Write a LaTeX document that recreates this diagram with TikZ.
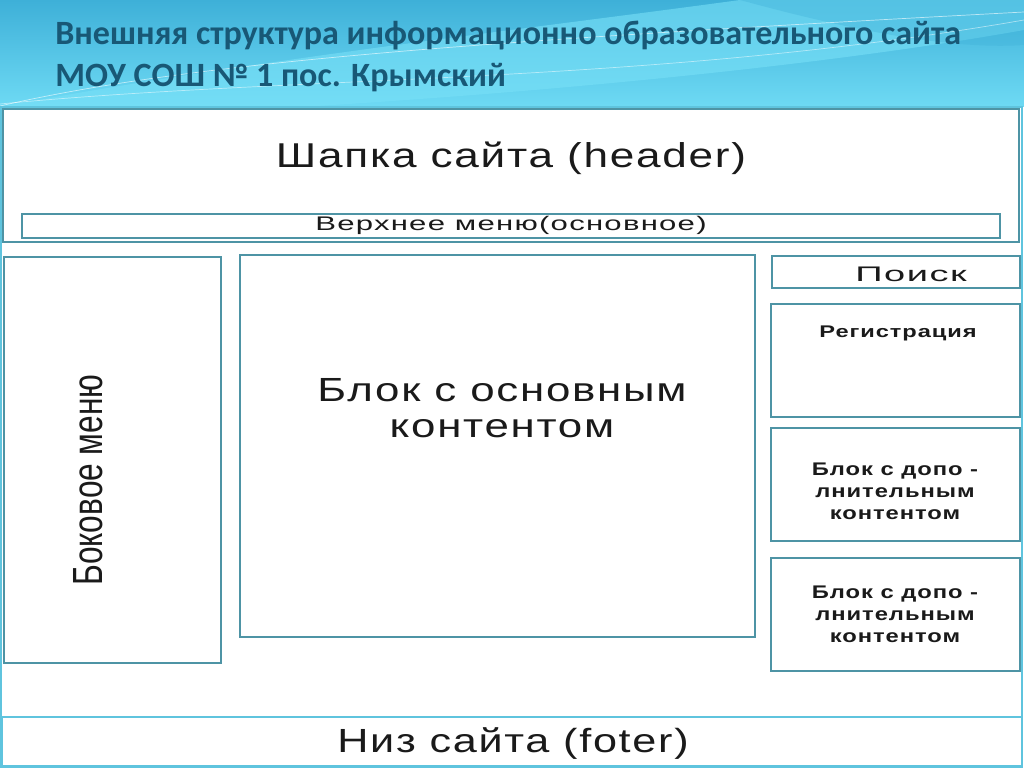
\documentclass[tikz,border=0pt]{standalone}
\usepackage{fontspec}
\setmainfont{Liberation Sans}
\newfontfamily\titlefont{Carlito}
\newfontfamily\boxfont{Liberation Sans}[LetterSpace=4]
\usetikzlibrary{positioning}

\definecolor{bandtop}{RGB}{62,176,216}
\definecolor{bandbot}{RGB}{110,218,244}
\definecolor{swoosh}{RGB}{120,224,247}
\definecolor{titleblue}{RGB}{24,88,118}
\definecolor{boxline}{RGB}{78,148,165}
\definecolor{frameline}{RGB}{95,196,222}
\definecolor{ink}{RGB}{26,26,26}

% the labels of the picture are stretched sideways
\newcommand{\wide}[2]{\scalebox{#1}[1]{#2}}

\tikzset{
  box/.style={draw=boxline, line width=0.9pt},
  frame/.style={draw=frameline, line width=1.1pt},
  lbl/.style={text=ink, inner sep=0pt, align=center, font=\boxfont},
  ttl/.style={font=\titlefont\bfseries\fontsize{24.2}{28}\selectfont, text=titleblue, anchor=base west, inner sep=0pt}
}

\begin{document}
\begin{tikzpicture}[x=0.025cm, y=-0.025cm]
    \useasboundingbox (0,0) rectangle (1024,768);
    \fill [white] (0,0) rectangle (1024,768);

    % top band of the slide
    \shade [top color=bandtop, bottom color=bandbot] (0,0) rectangle (1024,107);
    \fill [swoosh, opacity=0.6] (0,107) .. controls (250,60) and (520,30) .. (740,0) -- (1024,0) -- (1024,30) .. controls (800,70) and (500,95) .. (300,107) -- cycle;
    \fill [bandtop, opacity=0.35] (740,0) .. controls (850,30) and (950,50) .. (1024,45) -- (1024,0) -- cycle;
    \draw [white, opacity=0.6, line width=0.5pt] (0,106) .. controls (200,60) and (500,40) .. (1024,12);
    \draw [white, opacity=0.5, line width=0.5pt] (0,104) .. controls (300,75) and (650,85) .. (1024,20);
    \node [ttl] (title1) at (55,45) {Внешняя структура информационно образовательного сайта};
    \node [ttl] (title2) at (55,87) {МОУ СОШ № 1 пос. Крымский};

    % page frame
    \draw [frame] (1,107) rectangle (1022,767);

    % header with top menu
    \draw [box] (3,109) rectangle (1019,242);
    \node [lbl, font=\boxfont\fontsize{24.5}{28}\selectfont] (header) at (511,158) {\wide{1.28}{Шапка сайта (header)}};
    \draw [box] (22,214) rectangle (1000,238);
    \node [lbl, font=\boxfont\fontsize{14}{17}\selectfont] (topmenu) at (511,225) {\wide{1.58}{Верхнее меню(основное)}};

    % side menu
    \draw [box] (4,257) rectangle (221,663);
    \node [lbl, rotate=90, font=\setmainfont{Liberation Sans}\fontsize{30}{34}\selectfont] (sidemenu) at (88,480) {\wide{0.75}{Боковое меню}};

    % main content
    \draw [box] (240,255) rectangle (755,637);
    \node [lbl, font=\boxfont\fontsize{23.8}{25.6}\selectfont] (maincont) at (502,408) {\wide{1.31}{Блок с основным}\\\wide{1.31}{контентом}};

    % right column
    \draw [box] (772,256) rectangle (1020,288);
    \node [lbl, font=\boxfont\fontsize{15}{18}\selectfont] (search) at (911,274) {\wide{1.8}{Поиск}};
    \draw [box] (771,304) rectangle (1020,417);
    \node [lbl, font=\boxfont\bfseries\fontsize{12}{15}\selectfont] (register) at (898,333) {\wide{1.4}{Регистрация}};
    \draw [box] (771,428) rectangle (1020,541);
    \node [lbl, font=\boxfont\bfseries\fontsize{13}{15.6}\selectfont] (extra1) at (895,491) {\wide{1.3}{Блок с допо -}\\\wide{1.3}{лнительным}\\\wide{1.3}{контентом}};
    \draw [box] (771,558) rectangle (1020,671);
    \node [lbl, font=\boxfont\bfseries\fontsize{13}{15.6}\selectfont] (extra2) at (895,614) {\wide{1.3}{Блок с допо -}\\\wide{1.3}{лнительным}\\\wide{1.3}{контентом}};

    % footer
    \draw [box, draw=frameline] (2,717) rectangle (1022,766);
    \node [lbl, font=\boxfont\fontsize{23.8}{26}\selectfont] (footer) at (513,744) {\wide{1.29}{Низ сайта (foter)}};
\end{tikzpicture}
\end{document}
